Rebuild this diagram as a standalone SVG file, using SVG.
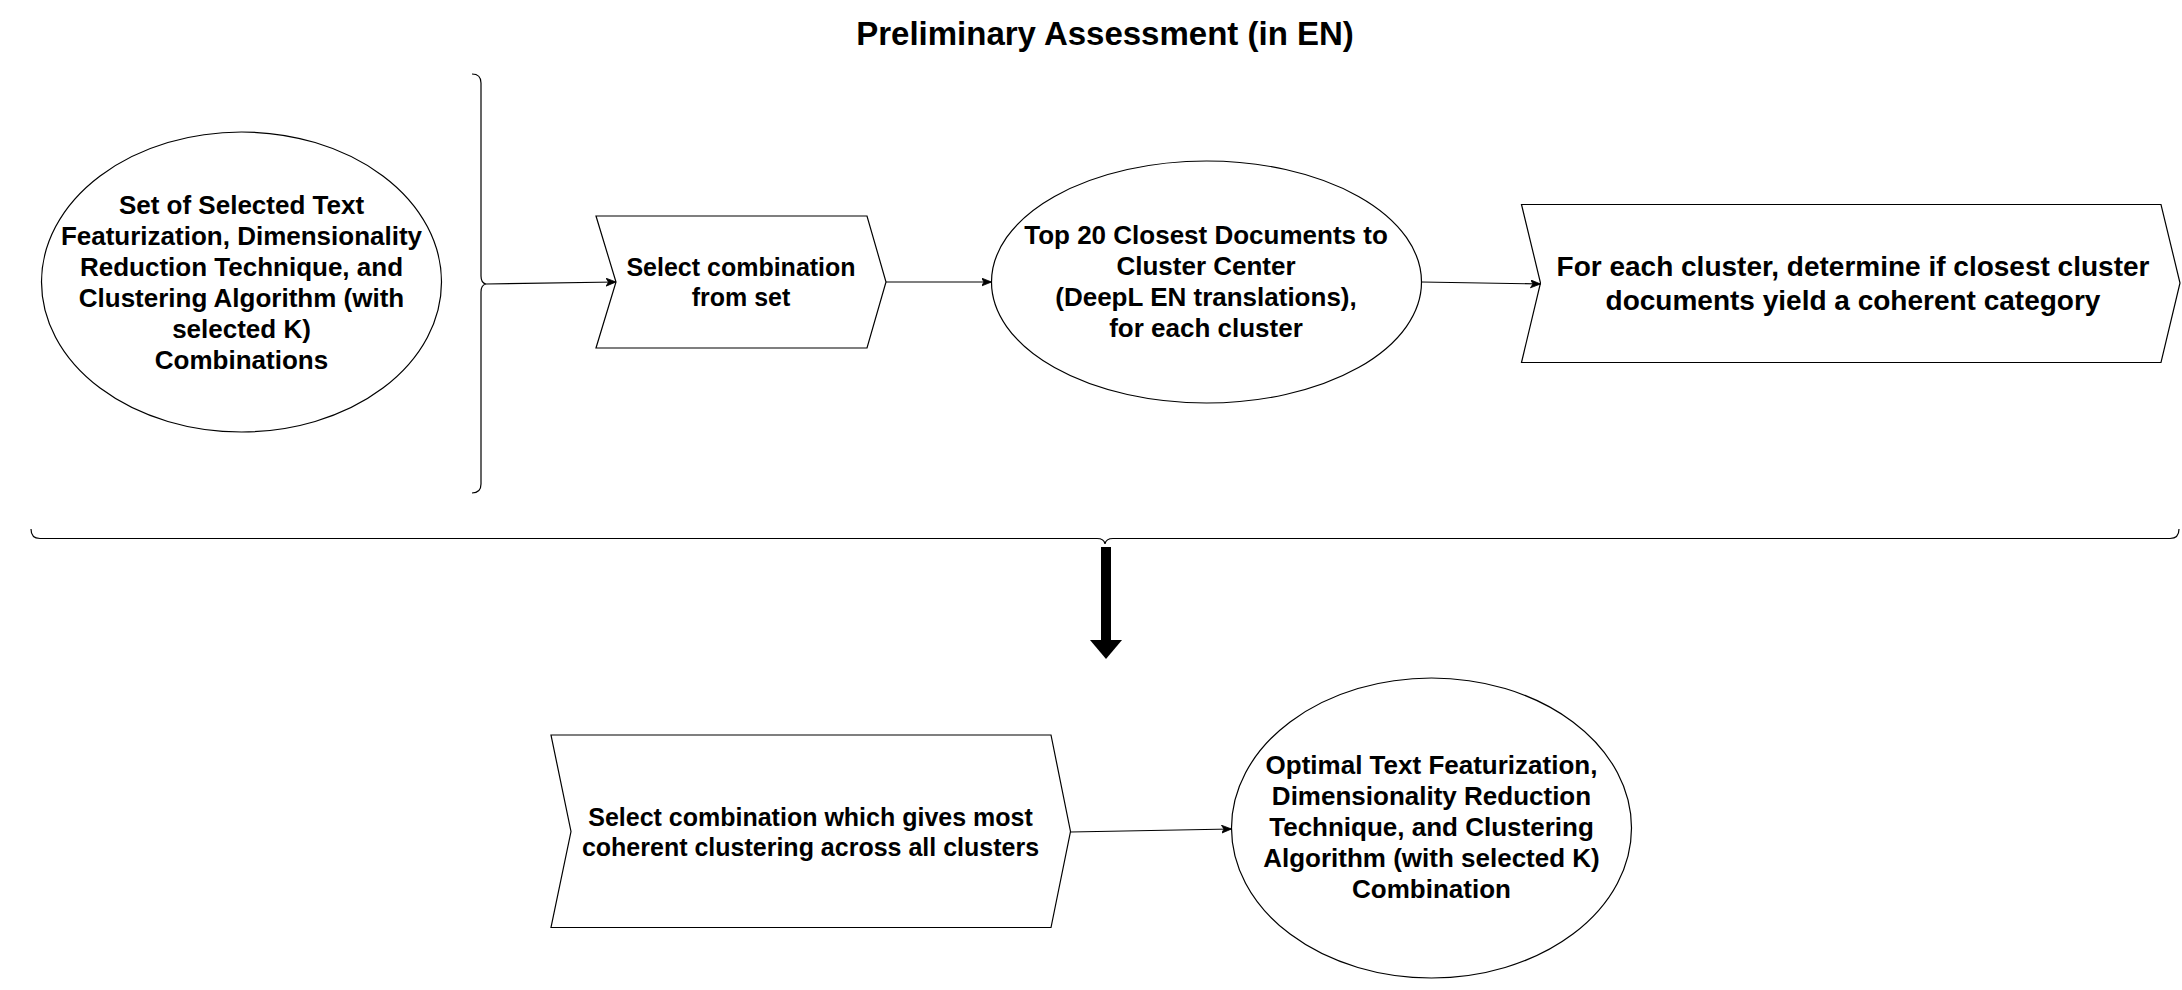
<svg xmlns="http://www.w3.org/2000/svg" width="2182" height="990" viewBox="0 0 2182 990">
<style>
  .shape { fill: #ffffff; stroke: #000000; stroke-width: 1.2; }
  .brace { fill: none; stroke: #000000; stroke-width: 1.2; }
  .conn { fill: none; stroke: #000000; stroke-width: 1.2; marker-end: url(#arrow); }
  text { font-family: "Liberation Sans", Arial, sans-serif; font-weight: bold; fill: #000000; text-anchor: middle; }
  .t25 { font-size: 25px; }
  .t26 { font-size: 26px; }
  .t28 { font-size: 28px; }
  .title { font-size: 33px; }
</style>
<defs>
  <marker id="arrow" markerUnits="userSpaceOnUse" markerWidth="11" markerHeight="9" refX="10" refY="4" orient="auto">
    <path d="M0,0 L10,4 L0,8 L2.5,4 Z" fill="#000000" stroke="#000000" stroke-width="0.8"/>
  </marker>
</defs>
<rect width="2182" height="990" fill="#ffffff"/>

<text class="title" x="1105" y="45">Preliminary Assessment (in EN)</text>

<g id="set-combinations">
  <ellipse class="shape" cx="241.5" cy="282" rx="200" ry="150"/>
  <text class="t26" x="241.5" y="213.5">Set of Selected Text</text>
  <text class="t26" x="241.5" y="244.5">Featurization, Dimensionality</text>
  <text class="t26" x="241.5" y="275.5">Reduction Technique, and</text>
  <text class="t26" x="241.5" y="306.5">Clustering Algorithm (with</text>
  <text class="t26" x="241.5" y="337.5">selected K)</text>
  <text class="t26" x="241.5" y="368.5">Combinations</text>
</g>

<g id="brace-vertical">
  <path class="brace" d="M472,74 Q481,74 481,83 L481,276 Q481,283 486,284 Q481,285 481,292 L481,484 Q481,493 472,493"/>
</g>

<g id="select-combination">
  <polygon class="shape" points="596,216 867,216 886,282 867,348 596,348 616,282"/>
  <text class="t25" x="741" y="276">Select combination</text>
  <text class="t25" x="741" y="306">from set</text>
</g>

<g id="top20-documents">
  <ellipse class="shape" cx="1206.5" cy="282" rx="215" ry="121"/>
  <text class="t26" x="1206" y="244">Top 20 Closest Documents to</text>
  <text class="t26" x="1206" y="275">Cluster Center</text>
  <text class="t26" x="1206" y="306">(DeepL EN translations),</text>
  <text class="t26" x="1206" y="337">for each cluster</text>
</g>

<g id="determine-coherent">
  <polygon class="shape" points="1521.5,204.5 2161,204.5 2180,283 2161,362.5 1521.5,362.5 1540.5,283"/>
  <text class="t28" x="1853" y="276">For each cluster, determine if closest cluster</text>
  <text class="t28" x="1853" y="310">documents yield a coherent category</text>
</g>

<g id="brace-horizontal">
  <path class="brace" d="M31,529 Q31,538.5 40,538.5 L1097,538.5 Q1104,538.5 1105,544 Q1106,538.5 1113,538.5 L2170,538.5 Q2179,538.5 2179,529"/>
</g>

<g id="big-arrow">
  <rect x="1101" y="547" width="10" height="94" fill="#000000"/>
  <polygon points="1090,640 1122,640 1106,659" fill="#000000"/>
</g>

<g id="select-most-coherent">
  <polygon class="shape" points="551,735 1051,735 1070.5,831.5 1051,927.5 551,927.5 571,831.5"/>
  <text class="t25" x="810.5" y="825.5">Select combination which gives most</text>
  <text class="t25" x="810.5" y="855.5">coherent clustering across all clusters</text>
</g>

<g id="optimal-combination">
  <ellipse class="shape" cx="1431.5" cy="828" rx="200" ry="150"/>
  <text class="t26" x="1431.5" y="774">Optimal Text Featurization,</text>
  <text class="t26" x="1431.5" y="805">Dimensionality Reduction</text>
  <text class="t26" x="1431.5" y="836">Technique, and Clustering</text>
  <text class="t26" x="1431.5" y="867">Algorithm (with selected K)</text>
  <text class="t26" x="1431.5" y="898">Combination</text>
</g>

<g id="connectors">
  <path class="conn" d="M486,284 L616,282"/>
  <path class="conn" d="M886,282 L991.5,282"/>
  <path class="conn" d="M1421.5,282 L1540.5,284"/>
  <path class="conn" d="M1070.5,832 L1231.5,829"/>
</g>
</svg>
